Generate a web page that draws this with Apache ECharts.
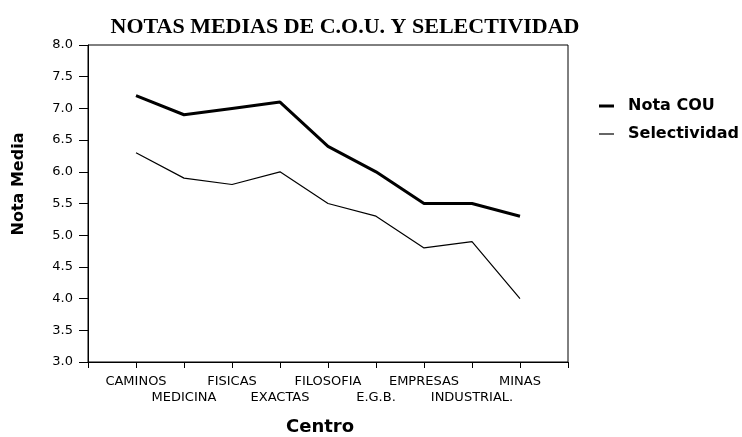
<!DOCTYPE html>
<html>
<head>
<meta charset="utf-8">
<script src="https://cdn.jsdelivr.net/npm/echarts@6/dist/echarts.min.js"></script>
<style>
  html, body { margin: 0; padding: 0; background: #fff; }
  #chart { width: 742px; height: 437px; }
</style>
</head>
<body>
<div id="chart"></div>
<script>
// datos
var centros = ['CAMINOS', 'MEDICINA', 'FISICAS', 'EXACTAS', 'FILOSOFIA', 'E.G.B.', 'EMPRESAS', 'INDUSTRIAL.', 'MINAS'];
var notaCOU = [7.2, 6.9, 7.0, 7.1, 6.4, 6.0, 5.5, 5.5, 5.3];
var selectividad = [6.3, 5.9, 5.8, 6.0, 5.5, 5.3, 4.8, 4.9, 4.0];

function toPoints(arr) {
  return arr.map(function (v, i) { return [i, v]; });
}

var chart = echarts.init(document.getElementById('chart'));
var sans = '"DejaVu Sans", Verdana, sans-serif';

chart.setOption({
  backgroundColor: '#fff',
  animation: false,
  title: {
    text: 'NOTAS MEDIAS DE C.O.U. Y SELECTIVIDAD',
    left: 340,
    textAlign: 'center',
    top: 11,
    textStyle: {
      fontFamily: '"Liberation Serif", "Times New Roman", serif',
      fontWeight: 'bold',
      fontSize: 22,
      color: '#000'
    }
  },
  legend: {
    orient: 'vertical',
    left: 594,
    top: 93,
    itemWidth: 15,
    itemHeight: 14,
    itemGap: 12,
    textStyle: {
      fontFamily: sans,
      fontWeight: 'bold',
      fontSize: 16,
      color: '#000',
      padding: [0, 0, 0, 9]
    },
    data: [
      { name: 'Nota COU', icon: 'path://M0,0M15,14M0,5.5L15,5.5L15,8.5L0,8.5Z' },
      { name: 'Selectividad', icon: 'path://M0,0M15,14M0,6.4L15,6.4L15,7.6L0,7.6Z' }
    ]
  },
  graphic: [{
    type: 'text',
    x: 19,
    y: 184,
    rotation: Math.PI / 2,
    style: {
      text: 'Nota Media',
      fontFamily: sans,
      fontWeight: 'bold',
      fontSize: 16,
      fill: '#000',
      align: 'center',
      verticalAlign: 'middle'
    }
  }],
  grid: {
    left: 88,
    right: 174,
    top: 45,
    bottom: 75,
    outerBoundsMode: 'none',
    show: true,
    borderColor: '#000',
    borderWidth: 1
  },
  xAxis: {
    type: 'value',
    min: -1,
    max: 9,
    interval: 1,
    name: 'Centro',
    nameLocation: 'middle',
    nameGap: 56,
    nameTextStyle: { fontFamily: sans, fontWeight: 'bold', fontSize: 18, color: '#000', padding: [0, 16, 0, 0] },
    splitLine: { show: false },
    axisLine: { lineStyle: { color: '#000', width: 1 } },
    axisTick: { length: 6, lineStyle: { color: '#000' } },
    axisLabel: {
      margin: 12,
      fontFamily: sans,
      fontSize: 13,
      lineHeight: 16,
      color: '#000',
      showMinLabel: true,
      showMaxLabel: true,
      formatter: function (v) {
        var i = Math.round(v);
        if (i < 0 || i >= centros.length) return '';
        return i % 2 === 1 ? '\n' + centros[i] : centros[i];
      }
    }
  },
  yAxis: {
    type: 'value',
    min: 3,
    max: 8,
    interval: 0.5,
    splitLine: { show: false },
    axisLine: { show: true, onZero: false, lineStyle: { color: '#000', width: 1 } },
    axisTick: { show: true, length: 9, lineStyle: { color: '#000' } },
    axisLabel: {
      margin: 15,
      fontFamily: sans,
      fontSize: 13,
      color: '#000',
      formatter: function (v) { return v.toFixed(1); }
    }
  },
  series: [
    {
      name: 'Nota COU',
      type: 'line',
      data: toPoints(notaCOU),
      symbol: 'none',
      lineStyle: { color: '#000', width: 3 },
      itemStyle: { color: '#000' }
    },
    {
      name: 'Selectividad',
      type: 'line',
      data: toPoints(selectividad),
      symbol: 'none',
      lineStyle: { color: '#000', width: 1.2 },
      itemStyle: { color: '#000' }
    }
  ]
});
</script>
</body>
</html>
